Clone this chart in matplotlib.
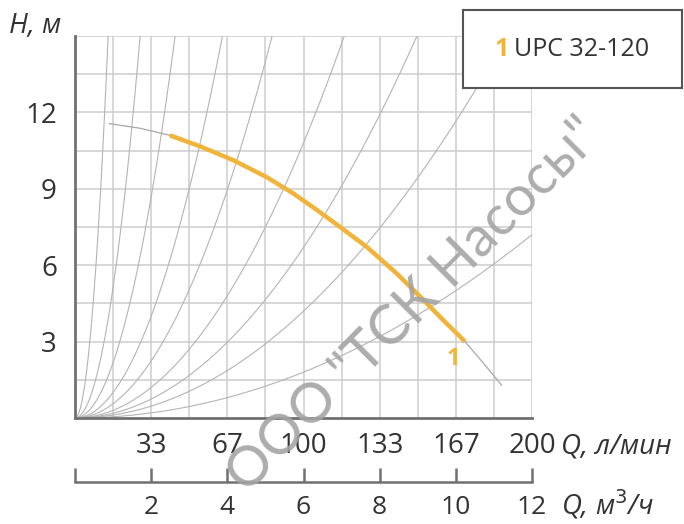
import numpy as np
import matplotlib
matplotlib.use("Agg")
import matplotlib.pyplot as plt

plt.rcParams['font.family'] = ['Open Sans', 'DejaVu Sans']

# ---- data ----
q_ticks = [2, 4, 6, 8, 10, 12]                      # m3/h
lmin_labels = ['33', '67', '100', '133', '167', '200']
h_ticks = [3, 6, 9, 12]

# pump curve (full, thin gray) Q m3/h, H m
pump_q = [0.90, 1.7, 2.49, 3.28, 4.16, 5.03, 5.73, 6.96, 7.66, 8.45, 9.06, 9.67, 10.24, 10.7, 11.2]
pump_h = [11.56, 11.38, 11.1, 10.67, 10.12, 9.46, 8.82, 7.5, 6.72, 5.67, 4.77, 3.84, 3.0, 2.2, 1.29]
# working range (yellow)
work_q = [2.49, 3.28, 4.16, 5.03, 5.73, 6.35, 6.96, 7.66, 8.45, 9.06, 9.67, 10.24]
work_h = [11.1, 10.67, 10.12, 9.46, 8.82, 8.17, 7.5, 6.72, 5.67, 4.77, 3.84, 3.0]

# system curves H = k*Q^2 (coefficients)
system_k = [19.8, 5.13, 2.17, 1.0, 0.56, 0.30, 0.186, 0.1165, 0.05]

YEL = '#F0B43A'
GRID = '#cdcdcd'
SYS = '#b4b4b4'
SPINE = '#707070'
TXT = '#333333'

fig = plt.figure(figsize=(6.84, 5.24), dpi=100)
ax = fig.add_axes([75/684, 1-418/524, (532-75)/684, (418-36)/524])
ax.set_xlim(0, 12)
ax.set_ylim(0, 15)

# grid
for x in range(1, 13):
    ax.axvline(x, color=GRID, lw=1.1, zorder=1)
for y in np.arange(1.5, 15.01, 1.5):
    ax.axhline(y, color=GRID, lw=1.1, zorder=1)

# system curves
qq = np.linspace(0, 12, 400)
for k in system_k:
    ax.plot(qq, k*qq**2, color=SYS, lw=0.8, zorder=2, clip_on=True)

ax.plot(pump_q, pump_h, color='#a8a8a8', lw=0.9, zorder=3)
ax.plot(work_q, work_h, color=YEL, lw=3.2, zorder=4, solid_capstyle='butt')
ax.text(9.93, 2.3, '1', color=YEL, fontsize=17, fontweight='bold', ha='center', va='center', zorder=5)

for s in ['top', 'right']:
    ax.spines[s].set_visible(False)
for s in ['left', 'bottom']:
    ax.spines[s].set_color(SPINE)
    ax.spines[s].set_linewidth(2)

ax.set_xticks(q_ticks)
ax.set_xticklabels(lmin_labels)
ax.set_yticks(h_ticks)
ax.tick_params(axis='both', length=0, labelsize=20, colors=TXT)
ax.tick_params(axis='x', pad=10)
ax.tick_params(axis='y', pad=13)

# secondary axis (m3/h)
ax2 = fig.add_axes([75/684, 1-482/524, (532-75)/684, 0.001])
ax2.set_xlim(0, 12)
ax2.set_ylim(0, 1)
for s in ['top', 'right', 'left']:
    ax2.spines[s].set_visible(False)
ax2.spines['bottom'].set_color(SPINE)
ax2.spines['bottom'].set_linewidth(1.8)
ax2.set_yticks([])
ax2.set_xticks([0] + q_ticks)
ax2.set_xticklabels([''] + [str(v) for v in q_ticks])
ax2.tick_params(axis='x', direction='in', length=10, width=1.8, color=SPINE,
                labelsize=19, labelcolor=TXT, pad=9)

# axis titles
fig.text(9/684, 1-26/524, 'H, м', fontsize=20, style='italic', color=TXT, ha='left', va='center')
fig.text(561/684, 1-447/524, 'Q, л/мин', fontsize=20, style='italic', color=TXT, ha='left', va='center')
fig.text(561/684, 1-505/524, 'Q, м$^3$/ч', fontsize=20, style='italic', color=TXT, ha='left', va='center')

# legend box
lax = fig.add_axes([463/684, 1-88/524, (682-463)/684, (88-10)/524])
lax.set_xticks([]); lax.set_yticks([])
for s in lax.spines.values():
    s.set_color('#555555'); s.set_linewidth(1.5)
lax.text(0.145, 0.5, '1', color=YEL, fontsize=18, fontweight='bold', ha='left', va='center', transform=lax.transAxes)
lax.text(0.235, 0.5, 'UPC 32-120', color=TXT, fontsize=18, ha='left', va='center', transform=lax.transAxes)

# watermark
fig.text(415/684, 1-305/524, 'ООО "ТСК Насосы"', fontsize=40, color='#a4a4a4', rotation=45,
         ha='center', va='center', family=['Lato', 'DejaVu Sans'], alpha=0.9)

fig.savefig('out.png', dpi=100)
